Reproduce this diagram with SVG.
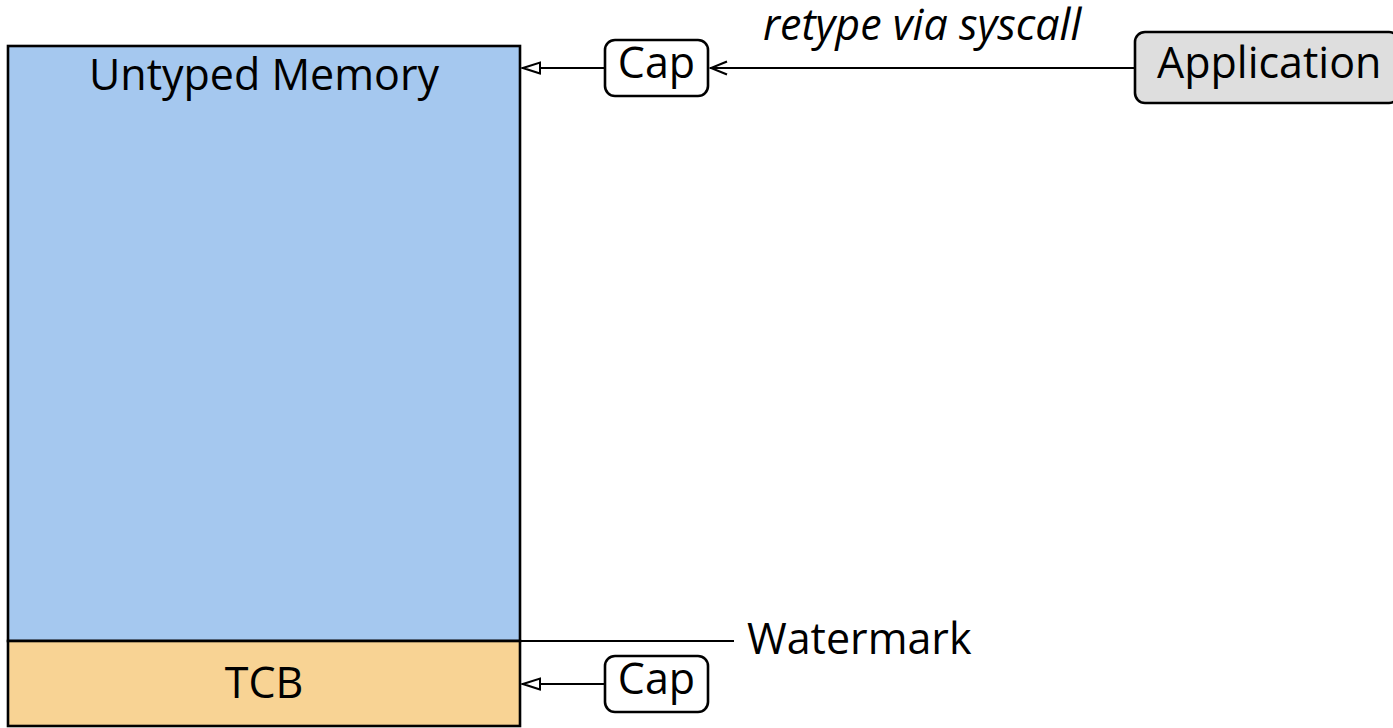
<svg xmlns="http://www.w3.org/2000/svg" width="1393" height="728" viewBox="0 0 1393 728">
  <style>
    .lbl { font-family: "Open Sans", "Noto Sans", sans-serif; font-size: 43px; fill: #000; }
    .it { font-style: italic; }
    .edge { stroke: #000; stroke-width: 2.2; fill: none; }
    .box { stroke: #000; stroke-width: 2.6; }
  </style>
  <defs>
    <marker id="tri" viewBox="0 0 20 14" refX="19" refY="7" markerWidth="20" markerHeight="14" markerUnits="userSpaceOnUse" orient="auto">
      <path d="M1,1.5 L18,7 L1,12.5 Z" fill="#fff" stroke="#000" stroke-width="2"/>
    </marker>
    <marker id="vee" viewBox="0 0 20 16" refX="19" refY="8" markerWidth="20" markerHeight="16" markerUnits="userSpaceOnUse" orient="auto">
      <path d="M2,1.5 L18,8 L2,14.5" fill="none" stroke="#000" stroke-width="2.2"/>
    </marker>
  </defs>

  <!-- memory region: untyped part above the watermark, TCB below -->
  <g id="untyped-memory">
    <rect class="box" x="8" y="46" width="512" height="595" fill="#a5c8ef"/>
    <text class="lbl" x="264" y="90" text-anchor="middle">Untyped Memory</text>
  </g>

  <g id="tcb">
    <rect class="box" x="8" y="641" width="512" height="85" fill="#f8d394"/>
    <text class="lbl" x="264" y="698" text-anchor="middle">TCB</text>
  </g>

  <g id="cap-top">
    <rect class="box" x="605" y="40" width="103" height="56" rx="10" fill="#fff"/>
    <text class="lbl" x="656.5" y="78" text-anchor="middle">Cap</text>
  </g>

  <g id="cap-bottom">
    <rect class="box" x="605" y="656" width="103" height="56" rx="10" fill="#fff"/>
    <text class="lbl" x="656.5" y="694" text-anchor="middle">Cap</text>
  </g>

  <g id="application">
    <rect class="box" x="1135" y="32" width="264" height="71" rx="10" fill="#dedede"/>
    <text class="lbl" x="1157" y="78">Application</text>
  </g>

  <g id="watermark">
    <text class="lbl" x="747" y="654">Watermark</text>
  </g>

  <g id="connectors">
    <line class="edge" x1="605" y1="68" x2="522" y2="68" marker-end="url(#tri)"/>
    <line class="edge" x1="1135" y1="68" x2="710" y2="68" marker-end="url(#vee)"/>
    <line class="edge" x1="605" y1="684" x2="522" y2="684" marker-end="url(#tri)"/>
    <line class="edge" x1="520" y1="641" x2="734" y2="641"/>
    <text class="lbl it" x="763" y="39.5">retype via syscall</text>
  </g>
</svg>
